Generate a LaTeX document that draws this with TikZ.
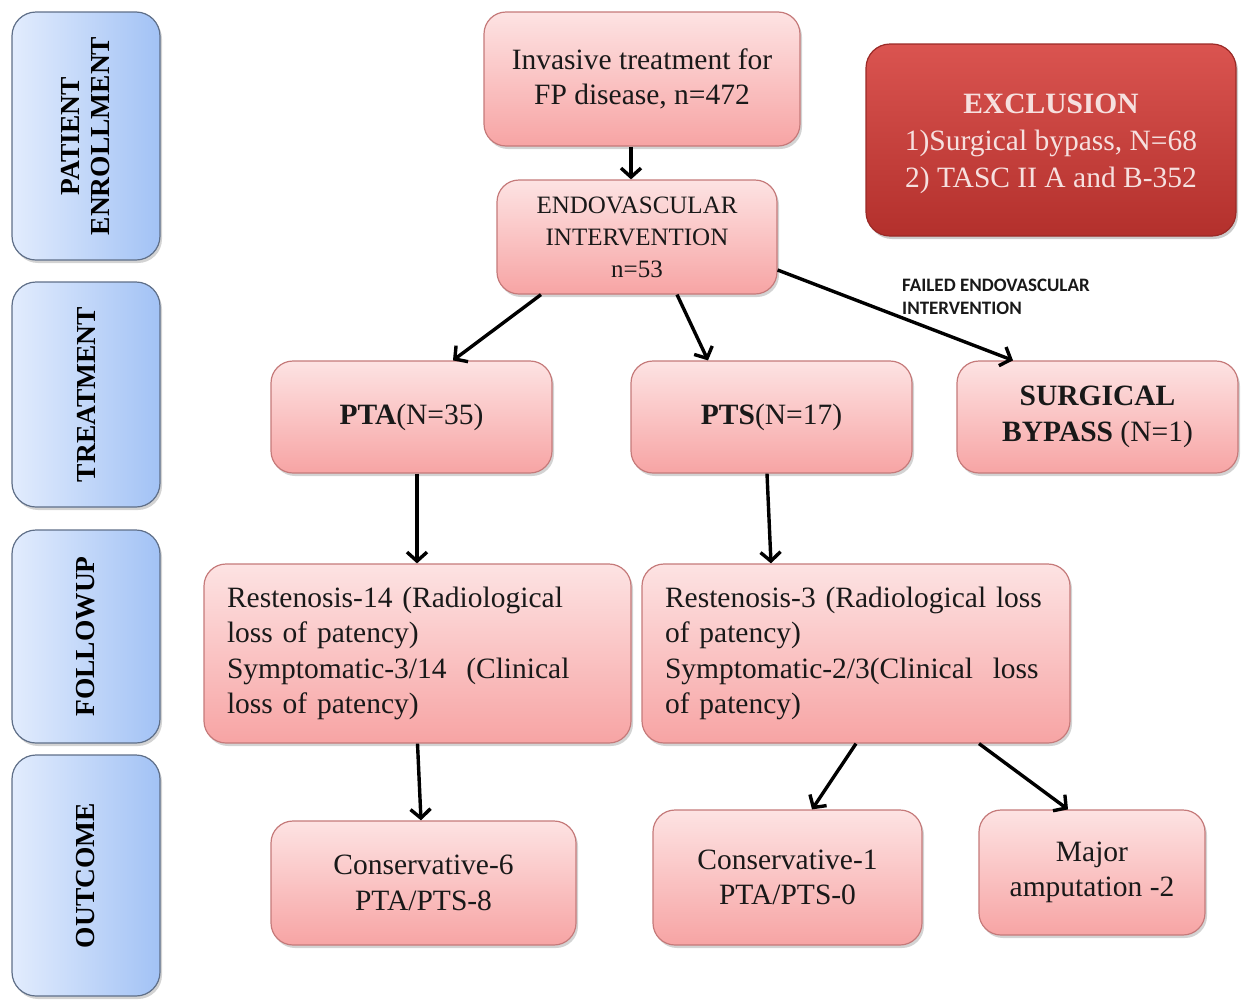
\documentclass[tikz,border=0pt]{standalone}
\usepackage{fontspec}
\setmainfont{Liberation Serif}
\newfontfamily\calib{Carlito}
\usetikzlibrary{arrows.meta,shadows}
\definecolor{pinktop}{HTML}{FDE3E3}
\definecolor{pinkbot}{HTML}{F7A4A4}
\definecolor{pinkline}{HTML}{C57A7A}
\definecolor{bluel}{HTML}{E2ECFD}
\definecolor{bluer}{HTML}{A2C2F5}
\definecolor{blueline}{HTML}{5F6F88}
\definecolor{redtop}{HTML}{DA5450}
\definecolor{redbot}{HTML}{B3302C}
\definecolor{redline}{HTML}{9A2A27}
\definecolor{redtext}{HTML}{F6E0DF}
\tikzset{
  pinkbox/.style={draw=pinkline, line width=1.2pt, rounded corners=22pt,
    top color=pinktop, bottom color=pinkbot, align=center,
    font=\fontsize{29.5}{35.5}\selectfont, text=black!90, inner sep=0pt,
    drop shadow={shadow xshift=2pt, shadow yshift=-3pt, opacity=0.35}},
  bluebox/.style={draw=blueline, line width=1.2pt, rounded corners=24pt,
    left color=bluel, right color=bluer, inner sep=0pt,
    drop shadow={shadow xshift=2pt, shadow yshift=-3pt, opacity=0.35}},
  bluelabel/.style={rotate=90, align=center, font=\bfseries\fontsize{27.5}{30}\selectfont, text=black},
  redbox/.style={draw=redline, line width=1.2pt, rounded corners=24pt,
    top color=redtop, bottom color=redbot, inner sep=0pt,
    drop shadow={shadow xshift=2pt, shadow yshift=-3pt, opacity=0.4}},
  redtxt/.style={align=center, text=redtext, font=\fontsize{29.5}{37}\selectfont, inner sep=0pt},
  arr/.style={line width=3.4pt, black, -{Straight Barb[length=9pt,width=20pt]}}
}
\begin{document}
\begin{tikzpicture}[x=1pt,y=-1pt]
\useasboundingbox (0,0) rectangle (1246,999);
% left stage boxes
\node[bluebox, minimum width=148pt, minimum height=248pt] (enb) at (86,136) {};
\node[bluelabel] (enl) at (enb.center) {PATIENT\\ENROLLMENT};
\node[bluebox, minimum width=148pt, minimum height=225pt] (trb) at (86,394.5) {};
\node[bluelabel] (trl) at (trb.center) {TREATMENT};
\node[bluebox, minimum width=148pt, minimum height=213pt] (fub) at (86,636.5) {};
\node[bluelabel] (ful) at (fub.center) {FOLLOWUP};
\node[bluebox, minimum width=148pt, minimum height=241pt] (ocb) at (86,875.5) {};
\node[bluelabel] (ocl) at (ocb.center) {OUTCOME};
% flow boxes
\node[pinkbox, minimum width=316pt, minimum height=134pt] (inv) at (642,79) {Invasive treatment for\\FP disease, n=472};
\node[pinkbox, minimum width=280pt, minimum height=114pt, font=\fontsize{25}{32}\selectfont] (endo) at (637,237) {ENDOVASCULAR\\INTERVENTION\\n=53};
\node[redbox, minimum width=370pt, minimum height=192pt] (excl) at (1051,140) {};
\node[redtxt] (exclt) at ([yshift=-4pt]excl.center) {\textbf{EXCLUSION}\\1)Surgical bypass, N=68\\2) TASC II A and B-352};
\node[pinkbox, minimum width=281pt, minimum height=112pt] (pta) at (411.5,417) {\textbf{PTA}(N=35)};
\node[pinkbox, minimum width=281pt, minimum height=112pt] (pts) at (771.5,417) {\textbf{PTS}(N=17)};
\node[pinkbox, minimum width=281pt, minimum height=112pt] (surg) at (1097.5,417) {\textbf{SURGICAL}\\\textbf{BYPASS} (N=1)};
\node[pinkbox, align=left, inner xsep=23pt, text width=381pt, minimum height=179pt] (r14) at (417.5,653.5) {Restenosis-14 (Radiological\\loss of patency)\\Symptomatic-3/14 \ (Clinical\\loss of patency)};
\node[pinkbox, align=left, inner xsep=23pt, text width=382pt, minimum height=179pt] (r3) at (856,653.5) {Restenosis-3 (Radiological loss\\of patency)\\Symptomatic-2/3(Clinical \ loss\\of patency)};
\node[pinkbox, minimum width=305pt, minimum height=124pt] (c6) at (423.5,883) {Conservative-6\\PTA/PTS-8};
\node[pinkbox, minimum width=269pt, minimum height=135pt] (c1) at (787.5,877.5) {Conservative-1\\PTA/PTS-0};
\node[pinkbox, minimum width=226pt, minimum height=125pt] (amp) at (1092,872.5) {Major\\amputation -2};
% label
\node[font=\calib\bfseries\fontsize{19}{23}\selectfont, align=left, anchor=north west, inner sep=0pt, text=black!90] (fail) at (902,279) {FAILED ENDOVASCULAR\\INTERVENTION};
% arrows
\draw[arr] ([xshift=-11pt]inv.south) -- ([xshift=-6pt]endo.north);
\draw[arr] ([xshift=-96pt]endo.south) -- ([xshift=41.5pt]pta.north);
\draw[arr] ([xshift=40pt]endo.south) -- ([xshift=-63.5pt]pts.north);
\draw[arr] ([yshift=-33pt]endo.east) -- ([xshift=-84.5pt]surg.north);
\draw[arr] ([xshift=5.5pt]pta.south) -- ([xshift=-0.5pt]r14.north);
\draw[arr] ([xshift=-4.5pt]pts.south) -- ([xshift=-85pt]r3.north);
\draw[arr] (r14.south) -- ([xshift=-2.5pt]c6.north);
\draw[arr] (r3.south) -- ([xshift=24.5pt]c1.north);
\draw[arr] ([xshift=123pt]r3.south) -- ([xshift=-24pt]amp.north);
\end{tikzpicture}
\end{document}
